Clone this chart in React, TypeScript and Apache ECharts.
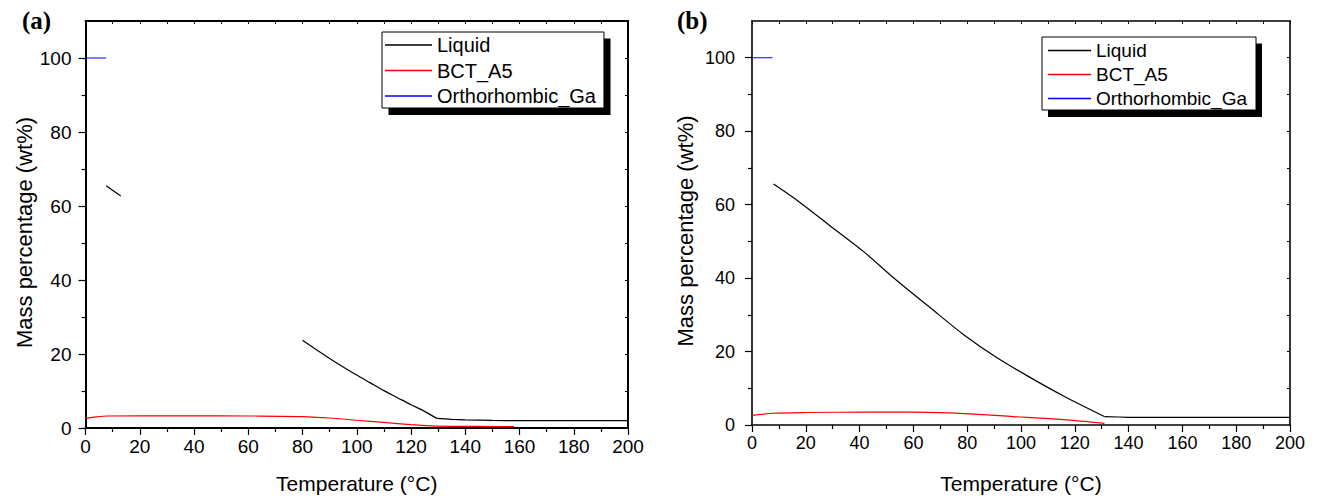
import React, { useEffect, useRef } from 'react';
import * as echarts from 'echarts';

// ---------- data ----------
const seriesNames = ['Liquid', 'BCT_A5', 'Orthorhombic_Ga'];
const seriesColors = ['#000000', '#ff0000', '#0000ff'];

const yMajorTicks = [0, 20, 40, 60, 80, 100];
const yMinorTicks = [10, 30, 50, 70, 90];
const yMirrorTicks = [10, 20, 30, 40, 50, 60, 70, 80, 90, 100];

// panel (a)
const liquidA: (number | null)[][] = [
  [7.6, 65.5], [13, 62.7], [40, null],
  [80, 23.7], [85, 21.2], [90, 18.8], [95, 16.5], [100, 14.3], [105, 12.2],
  [110, 10.1], [115, 8.2], [120, 6.3], [125, 4.5], [129.5, 2.6],
];
const liquidAPlateau: number[][] = [
  [129.5, 2.6], [135, 2.35], [140, 2.2], [150, 2.05], [160, 2.0], [200, 2.0],
];
const bctA: number[][] = [
  [0, 2.6], [4, 3.0], [8, 3.25], [20, 3.3], [40, 3.3], [60, 3.25], [80, 3.1],
  [90, 2.7], [100, 2.1], [110, 1.5], [120, 0.9], [129, 0.5], [140, 0.45],
  [150, 0.4], [158, 0.35],
];
const orthoA: number[][] = [[0, 100], [7.6, 100]];

// panel (b)
const liquidB: number[][] = [
  [8, 65.6], [16.7, 61.2], [29.1, 54.2], [41.5, 47.2], [52.6, 40.1], [66.3, 31.9],
  [78.7, 24.6], [91.1, 18.3], [103.5, 12.9], [115.8, 7.9], [131, 2.3],
];
const liquidBPlateau: number[][] = [[131, 2.3], [140, 2.1], [148, 2.05], [200, 2.05]];
const bctB: number[][] = [
  [0, 2.6], [8, 3.2], [20, 3.4], [41.5, 3.5], [60, 3.5], [78.7, 3.1], [97, 2.3],
  [115.8, 1.45], [131, 0.45],
];
const orthoB: number[][] = [[0, 100], [7.6, 100]];

const FONT = 'Liberation Sans, Arial, sans-serif';

type PanelCfg = {
  tickFont: number;
  xMargin: number;
  yMargin: number;
  xNameGap: number;
  yNameGap: number;
  axisWidth: number;
  data: { k: number; d: any[]; smooth: number | false }[];
};

function buildPanel(i: number, c: PanelCfg) {
  const lineStyle = { color: '#000', width: c.axisWidth };
  const xAxes = [
    {
      gridIndex: i, type: 'value', min: 0, max: 200, interval: 20, position: 'bottom',
      axisLine: { show: true, onZero: false, lineStyle },
      axisTick: { show: true, inside: false, length: 7, lineStyle: { color: '#000', width: 1.2 } },
      minorTick: { show: true, splitNumber: 2, length: 4, lineStyle: { color: '#000', width: 1.2 } },
      axisLabel: { show: true, margin: c.xMargin, color: '#000', fontSize: c.tickFont, fontFamily: FONT },
      splitLine: { show: false },
      name: 'Temperature (°C)', nameLocation: 'middle', nameGap: c.xNameGap,
      nameTextStyle: { color: '#000', fontSize: 21, fontFamily: FONT },
    },
    {
      gridIndex: i, type: 'value', min: 0, max: 200, interval: 10, position: 'top',
      axisLine: { show: true, onZero: false, lineStyle },
      axisTick: { show: true, inside: true, length: 3, lineStyle: { color: '#000', width: 1 } },
      axisLabel: { show: false }, splitLine: { show: false },
    },
  ];
  const yAxes = [
    {
      gridIndex: i, type: 'value', min: 0, max: 110, position: 'left',
      axisLine: { show: true, onZero: false, lineStyle },
      axisTick: { show: true, inside: false, length: 7, customValues: yMajorTicks, lineStyle: { color: '#000', width: 1.2 } },
      axisLabel: { show: true, margin: c.yMargin, color: '#000', fontSize: c.tickFont, fontFamily: FONT, customValues: yMajorTicks },
      splitLine: { show: false },
      name: 'Mass percentage (wt%)', nameLocation: 'middle', nameGap: c.yNameGap,
      nameTextStyle: { color: '#000', fontSize: 22, fontFamily: FONT, padding: [0, 16, 0, 0] },
    },
    {
      gridIndex: i, type: 'value', min: 0, max: 110, position: 'left',
      axisLine: { show: false },
      axisTick: { show: true, inside: false, length: 4, customValues: yMinorTicks, lineStyle: { color: '#000', width: 1.2 } },
      axisLabel: { show: false }, splitLine: { show: false },
    },
    {
      gridIndex: i, type: 'value', min: 0, max: 110, position: 'right',
      axisLine: { show: true, onZero: false, lineStyle },
      axisTick: { show: true, inside: true, length: 3, customValues: yMirrorTicks, lineStyle: { color: '#000', width: 1 } },
      axisLabel: { show: false }, splitLine: { show: false },
    },
  ];
  const series = c.data.map(({ k, d, smooth }) => ({
    type: 'line', name: seriesNames[k], xAxisIndex: i * 2, yAxisIndex: i * 3,
    data: d, symbol: 'none', showSymbol: false, connectNulls: false,
    smooth,
    lineStyle: { color: seriesColors[k], width: 1.2 }, itemStyle: { color: seriesColors[k] },
  }));
  return { xAxes, yAxes, series };
}

export default function App() {
  const ref = useRef<HTMLDivElement>(null);
  useEffect(() => {
    if (!ref.current) return;
    const chart = echarts.init(ref.current, null, { renderer: 'svg' });
    const pa = buildPanel(0, {
      tickFont: 19, xMargin: 9, yMargin: 14, xNameGap: 45, yNameGap: 50, axisWidth: 2,
      data: [
        { k: 0, d: liquidA, smooth: 0.3 },
        { k: 1, d: bctA, smooth: 0.3 },
        { k: 2, d: orthoA, smooth: false },
        { k: 0, d: liquidAPlateau, smooth: 0.3 },
      ],
    });
    const pb = buildPanel(1, {
      tickFont: 18, xMargin: 9, yMargin: 17, xNameGap: 48, yNameGap: 56, axisWidth: 1.6,
      data: [
        { k: 0, d: liquidB, smooth: 0.3 },
        { k: 1, d: bctB, smooth: 0.3 },
        { k: 2, d: orthoB, smooth: false },
        { k: 0, d: liquidBPlateau, smooth: 0.3 },
      ],
    });
    const legendBase = {
      orient: 'vertical', selectedMode: false, backgroundColor: '#fff',
      borderColor: '#000', borderWidth: 1, borderRadius: 0, z: 10,
      icon: 'rect', data: seriesNames,
    };
    const option: any = {
      animation: false,
      backgroundColor: '#fff',
      grid: [
        { left: 85.5, top: 21, width: 542.5, height: 409, containLabel: false },
        { left: 752, top: 21, width: 538, height: 405, containLabel: false },
      ],
      xAxis: [...pa.xAxes, ...pb.xAxes],
      yAxis: [...pa.yAxes, ...pb.yAxes],
      series: [...pa.series, ...pb.series],
      legend: [
        {
          ...legendBase, left: 382, top: 32, padding: [3, 8, 2, 3], itemGap: 5.5,
          itemWidth: 47, itemHeight: 1.3,
          textStyle: { color: '#000', fontSize: 20, fontFamily: FONT },
        },
        {
          ...legendBase, left: 1042, top: 37, padding: [4, 9, 2, 6], itemGap: 5,
          itemWidth: 43, itemHeight: 1.3,
          textStyle: { color: '#000', fontSize: 19, fontFamily: FONT },
        },
      ],
      graphic: [
        { type: 'rect', z: 1, shape: { x: 388.5, y: 38.5, width: 222, height: 76.5 }, style: { fill: '#000' } },
        { type: 'rect', z: 1, shape: { x: 1048, y: 43.5, width: 214, height: 73.5 }, style: { fill: '#000' } },
        { type: 'text', x: 22, y: 20, style: { text: '(a)', font: 'bold 25px "Liberation Serif", "Times New Roman", serif', fill: '#000', verticalAlign: 'middle' } },
        { type: 'text', x: 677, y: 20, style: { text: '(b)', font: 'bold 25px "Liberation Serif", "Times New Roman", serif', fill: '#000', verticalAlign: 'middle' } },
      ],
    };
    chart.setOption(option);
    return () => chart.dispose();
  }, []);
  return (
    <div
      ref={ref}
      style={{ position: 'fixed', left: 0, top: 0, width: 1318, height: 499, background: '#fff' }}
    />
  );
}
